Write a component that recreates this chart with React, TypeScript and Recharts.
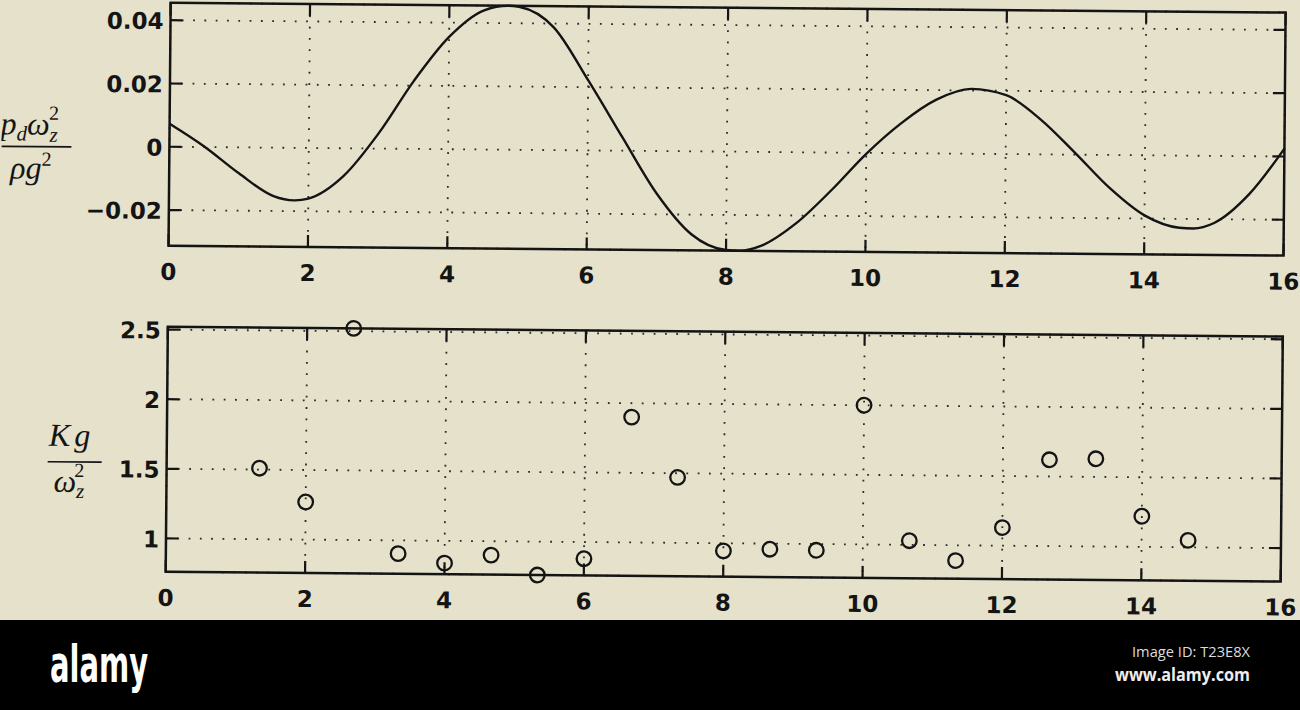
import React from 'react';
import { LineChart, Line, ScatterChart, Scatter, XAxis, YAxis, CartesianGrid, ReferenceArea } from 'recharts';

// ---------- data ----------
const xTicks = [0, 2, 4, 6, 8, 10, 12, 14, 16];
const xTickLabels = ['0', '2', '4', '6', '8', '10', '12', '14', '16'];

const topX = [0, 0.5, 1.0, 1.5, 1.8, 2.0, 2.5, 3.0, 3.5, 4.0, 4.5, 4.85, 5.0, 5.5, 6.0, 6.5, 7.0, 7.5, 8.0, 8.2, 8.5, 9.0, 9.5, 10.0, 10.5, 11.0, 11.5, 12.0, 12.5, 13.0, 13.5, 14.0, 14.5, 14.7, 15.0, 15.5, 16.0];
const topY = [0.0073, 0.0002, -0.0082, -0.0153, -0.0166, -0.016, -0.0088, 0.0048, 0.0215, 0.0355, 0.044, 0.0455, 0.0452, 0.0388, 0.0222, 0.0042, -0.0135, -0.0262, -0.0311, -0.0313, -0.0297, -0.0225, -0.012, -0.0003, 0.0095, 0.017, 0.0205, 0.0186, 0.011, 0.0005, -0.0105, -0.019, -0.0228, -0.023, -0.0212, -0.012, 0.0025];
const topYTicks = [-0.02, 0, 0.02, 0.04];
const topYTickLabels = ['\u22120.02', '0', '0.02', '0.04'];
const topDomain = [-0.0313, 0.0455];

const botX = [1.333, 2.0, 2.667, 3.333, 4.0, 4.667, 5.333, 6.0, 6.667, 7.333, 8.0, 8.667, 9.333, 10.0, 10.667, 11.333, 12.0, 12.667, 13.333, 14.0, 14.667];
const botY = [1.51, 1.27, 2.52, 0.905, 0.84, 0.9, 0.76, 0.88, 1.9, 1.47, 0.945, 0.96, 0.955, 2.0, 1.03, 0.89, 1.13, 1.62, 1.63, 1.22, 1.05];
const botYTicks = [1, 1.5, 2, 2.5];
const botYTickLabels = ['1', '1.5', '2', '2.5'];
const botDomain = [0.76, 2.52];

const topData = topX.map((x, i) => ({ x, y: topY[i] }));
const botData = botX.map((x, i) => ({ x, y: botY[i] }));

// ---------- styling / layout ----------
const BG = '#e5e1ca';
const INK = '#141414';
const TICK = 12;
const PLOT_W = 1115;
const TOP_H = 243;
const BOT_H = 245;

const tickFont: React.CSSProperties = {
  fontFamily: '"DejaVu Sans", sans-serif',
  fontWeight: 'bold',
  fontSize: 23,
  fill: INK,
};
const mathFont: React.CSSProperties = {
  fontFamily: '"Liberation Serif", "DejaVu Serif", serif',
  fontStyle: 'italic',
  fontSize: 32,
  fill: INK,
};

const labelFor = (ticks: number[], labels: string[], v: number) => {
  const i = ticks.findIndex((t) => Math.abs(t - v) < 1e-9);
  return i >= 0 ? labels[i] : String(v);
};

const makeXTick = (plotH: number) => (props: any) => {
  const { x, y, payload } = props;
  return (
    <g>
      <line x1={x} y1={y} x2={x} y2={y - TICK} stroke={INK} strokeWidth={2.2} />
      <line x1={x} y1={y - plotH} x2={x} y2={y - plotH + TICK} stroke={INK} strokeWidth={2.2} />
      <text x={x} y={y + 34} textAnchor="middle" style={tickFont}>
        {labelFor(xTicks, xTickLabels, payload.value)}
      </text>
    </g>
  );
};

const makeYTick = (ticks: number[], labels: string[]) => (props: any) => {
  const { x, y, payload } = props;
  return (
    <g>
      <line x1={x} y1={y} x2={x + TICK} y2={y} stroke={INK} strokeWidth={2.2} />
      <line x1={x + PLOT_W} y1={y} x2={x + PLOT_W - TICK} y2={y} stroke={INK} strokeWidth={2.2} />
      <text x={x - 7} y={y + 9} textAnchor="end" style={tickFont}>
        {labelFor(ticks, labels, payload.value)}
      </text>
    </g>
  );
};

const Ring = (props: any) => {
  const { cx, cy } = props;
  if (cx == null || cy == null) return null;
  return <circle cx={cx} cy={cy} r={7.3} fill="none" stroke={INK} strokeWidth={2.3} />;
};

export default function App() {
  return (
    <div style={{ position: 'absolute', left: 0, top: 0, width: 1300, height: 710, overflow: 'hidden', background: BG }}>
      <div
        style={{
          position: 'absolute',
          left: 0,
          top: 0,
          width: 1300,
          height: 620,
          transform: 'rotate(0.5deg)',
          transformOrigin: '650px 310px',
        }}
      >
        {/* top panel */}
        <div style={{ position: 'absolute', left: 0, top: 0 }}>
          <LineChart width={1300} height={300} data={topData} margin={{ top: 7, right: 17, bottom: 20, left: 108 }}>
            <CartesianGrid stroke="#2a2a2a" strokeWidth={1.8} strokeDasharray="1.8 9.5" />
            <XAxis
              dataKey="x"
              type="number"
              domain={[0, 16]}
              ticks={xTicks}
              interval={0}
              height={30}
              axisLine={false}
              tickLine={false}
              tickSize={0}
              tickMargin={0}
              tick={makeXTick(TOP_H)}
            />
            <YAxis
              dataKey="y"
              type="number"
              domain={topDomain}
              ticks={topYTicks}
              interval={0}
              width={60}
              axisLine={false}
              tickLine={false}
              tickSize={0}
              tickMargin={0}
              tick={makeYTick(topYTicks, topYTickLabels)}
            />
            <ReferenceArea x1={0} x2={16} y1={topDomain[0]} y2={topDomain[1]} fill="none" stroke={INK} strokeWidth={2.5} ifOverflow="visible" />
            <Line dataKey="y" type="monotone" stroke={INK} strokeWidth={2.4} dot={false} isAnimationActive={false} />
          </LineChart>
        </div>

        {/* bottom panel */}
        <div style={{ position: 'absolute', left: 0, top: 300 }}>
          <ScatterChart width={1300} height={320} margin={{ top: 31, right: 17, bottom: 14, left: 108 }}>
            <CartesianGrid stroke="#2a2a2a" strokeWidth={1.8} strokeDasharray="1.8 9.5" />
            <XAxis
              dataKey="x"
              type="number"
              domain={[0, 16]}
              ticks={xTicks}
              interval={0}
              height={30}
              axisLine={false}
              tickLine={false}
              tickSize={0}
              tickMargin={0}
              tick={makeXTick(BOT_H)}
            />
            <YAxis
              dataKey="y"
              type="number"
              domain={botDomain}
              ticks={botYTicks}
              interval={0}
              width={60}
              axisLine={false}
              tickLine={false}
              tickSize={0}
              tickMargin={0}
              tick={makeYTick(botYTicks, botYTickLabels)}
            />
            <ReferenceArea x1={0} x2={16} y1={botDomain[0]} y2={botDomain[1]} fill="none" stroke={INK} strokeWidth={2.5} ifOverflow="visible" />
            <Scatter data={botData} shape={Ring} isAnimationActive={false} />
          </ScatterChart>
        </div>

        {/* axis labels */}
        <svg width={168} height={620} style={{ position: 'absolute', left: 0, top: 0 }}>
          <text x={-1} y={140} style={mathFont}>
            p<tspan dy={6} fontSize={21}>d</tspan>
            <tspan dy={-6}>ω</tspan>
            <tspan dy={7} fontSize={21}>z</tspan>
            <tspan dx={-9} dy={-22} fontSize={20} fontStyle="normal">2</tspan>
          </text>
          <line x1={0} y1={152} x2={70} y2={152} stroke={INK} strokeWidth={1.7} />
          <text x={9} y={184} style={mathFont}>
            ρg<tspan dy={-13} fontSize={20} fontStyle="normal">2</tspan>
          </text>

          <text x={50} y={451} style={mathFont} letterSpacing={4}>
            Kg
          </text>
          <line x1={49} y1={467} x2={103} y2={467} stroke={INK} strokeWidth={1.7} />
          <text x={55} y={497} style={mathFont}>
            ω<tspan dy={6} fontSize={21}>z</tspan>
            <tspan dx={-10} dy={-21} fontSize={20} fontStyle="normal">2</tspan>
          </text>
        </svg>
      </div>

      {/* bottom banner */}
      <svg width={1300} height={90} style={{ position: 'absolute', left: 0, top: 620 }}>
        <rect x={0} y={0} width={1300} height={90} fill="#000" />
        <text
          x={50}
          y={62}
          fill="#fff"
          fontFamily='"DejaVu Sans Condensed", "DejaVu Sans", sans-serif'
          fontWeight="bold"
          fontSize={52}
          textLength={98}
          lengthAdjust="spacingAndGlyphs"
        >
          alamy
        </text>
        <text x={1132} y={37} fill="#dcdcdc" fontFamily='"Open Sans", sans-serif' fontSize={15} textLength={118} lengthAdjust="spacingAndGlyphs">
          Image ID: T23E8X
        </text>
        <text x={1115} y={61} fill="#eeeeee" fontFamily='"Open Sans", sans-serif' fontWeight="bold" fontSize={17} textLength={135} lengthAdjust="spacingAndGlyphs">
          www.alamy.com
        </text>
      </svg>
    </div>
  );
}
